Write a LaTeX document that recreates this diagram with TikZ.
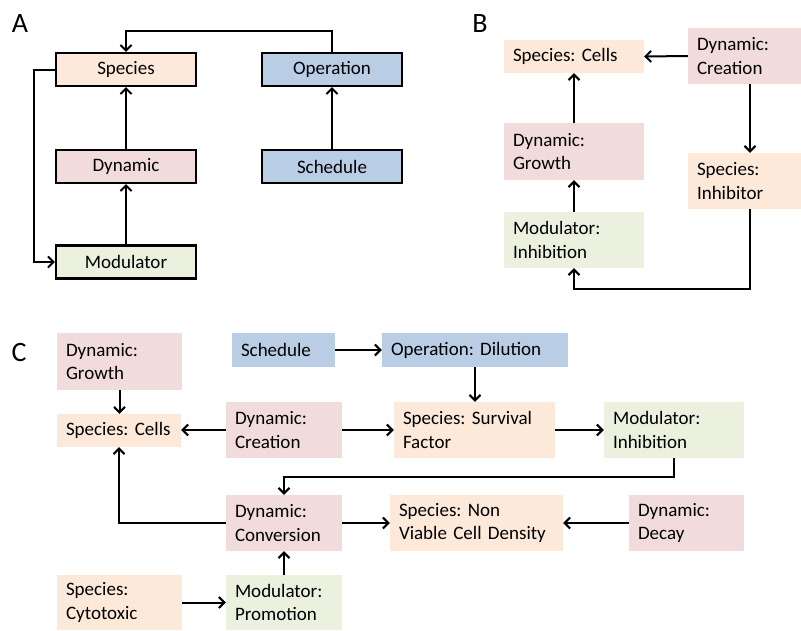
\documentclass[tikz,border=0pt]{standalone}
\usepackage{fontspec}
\setmainfont{Carlito}
\usetikzlibrary{arrows.meta}
\definecolor{cpeach}{HTML}{FDE9D9}
\definecolor{cpink}{HTML}{F2DCDB}
\definecolor{cblue}{HTML}{B9CDE5}
\definecolor{cgreen}{HTML}{EBF1DE}
\begin{document}
\frenchspacing
\begin{tikzpicture}[x=1pt,y=-1pt,
  abox/.style={draw=black, line width=2.2pt, minimum width=140pt, minimum height=33pt,
    inner sep=0pt, font=\fontsize{19}{23}\selectfont},
  lbox/.style={inner xsep=9pt, inner ysep=2pt, align=left,
    font=\fontsize{19}{23.5}\selectfont\frenchspacing},
  arr/.style={line width=2pt, -{Straight Barb[length=5.5pt,width=11pt,line width=2pt]}},
  lab/.style={font=\fontsize{28}{30}\selectfont, inner sep=0pt}]
\useasboundingbox (0,0) rectangle (801,630);

% ---------- Panel A ----------
\node[lab] (labA) at (20,24) {A};
\node[abox, fill=cpeach] (a_sp) at (126,69.5) {Species};
\node[abox, fill=cblue]  (a_op) at (332,69.5) {Operation};
\node[abox, fill=cpink]  (a_dy) at (126,166.5) {Dynamic};
\node[abox, fill=cblue]  (a_sc) at (332,166.5) {Schedule};
\node[abox, fill=cgreen] (a_mo) at (126,262) {Modulator};
\draw[arr] (a_dy) -- (a_sp);
\draw[arr] (a_mo) -- (a_dy);
\draw[arr] (a_sc) -- (a_op);
\draw[arr] (a_op.north) -- ++(0,-21) -| (a_sp.north);
\draw[arr] (a_sp.west) -- ++(-21,0) |- (a_mo.west);

% ---------- Panel B ----------
\node[lab] (labB) at (480,24) {B};
\node[lbox, fill=cpeach, text width=122pt, minimum height=33pt] (b_cells) at (574,56.5) {Species: Cells};
\node[lbox, fill=cpink, text width=95pt, minimum height=56pt] (b_creat) at (744.5,56) {Dynamic:\\Creation};
\node[lbox, fill=cpink, text width=122pt, minimum height=57pt] (b_growth) at (574,151.5) {Dynamic:\\Growth};
\node[lbox, fill=cpeach, text width=95pt, minimum height=56pt] (b_inhib) at (744.5,181) {Species:\\Inhibitor};
\node[lbox, fill=cgreen, text width=122pt, minimum height=56pt] (b_mod) at (574,240) {Modulator:\\Inhibition};
\draw[arr] (b_creat.west) -- (b_cells.east);
\draw[arr] (b_growth) -- (b_cells);
\draw[arr] (b_mod) -- (b_growth);
\draw[arr] ([xshift=5.5pt]b_creat.south) -- ([xshift=5.5pt]b_inhib.north);
\draw[arr] ([xshift=5.5pt]b_inhib.south) -- ++(0,80) -| (b_mod.south);

% ---------- Panel C ----------
\node[lab] (labC) at (19,353) {C};
\node[lbox, fill=cpink, text width=107pt, minimum height=57pt] (c_growth) at (119.5,361.5) {Dynamic:\\Growth};
\node[lbox, fill=cblue, text width=85pt, minimum height=34pt] (c_sched) at (283.5,350) {Schedule};
\node[lbox, fill=cblue, text width=168pt, minimum height=34pt] (c_op) at (475,350) {Operation: Dilution};
\node[lbox, fill=cpeach, text width=106pt, minimum height=33pt] (c_cells) at (119,430.5) {Species: Cells};
\node[lbox, fill=cpink, text width=98pt, minimum height=56pt] (c_creat) at (284,430) {Dynamic:\\Creation};
\node[lbox, fill=cpeach, text width=143pt, minimum height=56pt] (c_surv) at (474.5,430) {Species: Survival\\Factor};
\node[lbox, fill=cgreen, text width=122pt, minimum height=56pt] (c_inh) at (674,430) {Modulator:\\Inhibition};
\node[lbox, fill=cpink, text width=98pt, minimum height=56pt] (c_conv) at (284,523) {Dynamic:\\Conversion};
\node[lbox, fill=cpeach, text width=155pt, minimum height=56pt] (c_nvcd) at (476.5,523) {Species: Non\\Viable Cell Density};
\node[lbox, fill=cpink, text width=97pt, minimum height=56pt] (c_decay) at (686.5,523) {Dynamic:\\Decay};
\node[lbox, fill=cpeach, text width=107pt, minimum height=55pt] (c_cyto) at (119.5,602.5) {Species:\\Cytotoxic};
\node[lbox, fill=cgreen, text width=98pt, minimum height=55pt] (c_promo) at (284,602.5) {Modulator:\\Promotion};

\draw[arr] (c_sched.east) -- (c_op.west);
\draw[arr] (c_op.south) -- (c_surv.north -| c_op.south);
\draw[arr] (c_growth.south) -- (c_cells.north -| c_growth.south);
\draw[arr] (c_creat.west) -- (c_cells.east |- c_creat.west);
\draw[arr] (c_creat.east) -- (c_surv.west);
\draw[arr] (c_surv.east) -- (c_inh.west);
\draw[arr] (c_inh.south) -- ++(0,19) -| (c_conv.north);
\draw[arr] (c_conv.west) -| (c_cells.south);
\draw[arr] (c_conv.east) -- (c_nvcd.west);
\draw[arr] (c_decay.west) -- (c_nvcd.east);
\draw[arr] (c_cyto.east) -- (c_promo.west);
\draw[arr] (c_promo) -- (c_conv);
\end{tikzpicture}
\end{document}
